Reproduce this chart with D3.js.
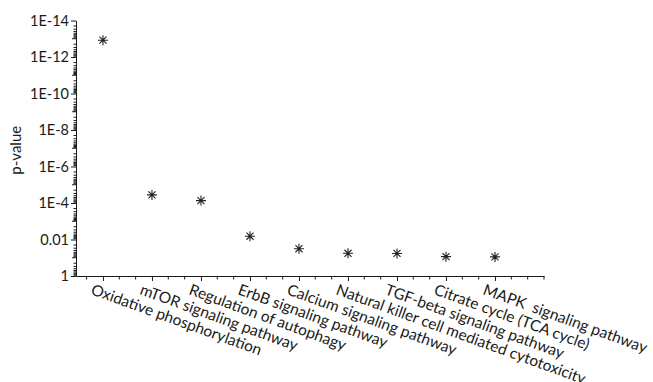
<!DOCTYPE html>
<html>
<head>
<meta charset="utf-8">
<script src="https://cdnjs.cloudflare.com/ajax/libs/d3/7.8.5/d3.min.js"></script>
<style>
  html, body { margin: 0; padding: 0; background: #fff; }
  svg { display: block; }
  text { font-family: Lato, "Open Sans", sans-serif; fill: #1a1a1a; }
</style>
</head>
<body>
<svg id="chart" width="653" height="382"></svg>
<script>
// KEGG pathways and their enrichment p-values
const pathways = [
  "Oxidative phosphorylation",
  "mTOR signaling pathway",
  "Regulation of autophagy",
  "ErbB signaling pathway",
  "Calcium signaling pathway",
  "Natural killer cell mediated cytotoxicity",
  "TGF-beta signaling pathway",
  "Citrate cycle (TCA cycle)",
  "MAPK  signaling pathway"
];
const pValues = [1.2e-13, 3.6e-5, 7.4e-5, 6.6e-3, 0.032, 0.057, 0.058, 0.087, 0.09];

// labelled y ticks (every second decade)
const yTickValues = [1, 1e-2, 1e-4, 1e-6, 1e-8, 1e-10, 1e-12, 1e-14];
const yTickLabels = ["1", "0.01", "1E-4", "1E-6", "1E-8", "1E-10", "1E-12", "1E-14"];

const svg = d3.select("#chart");
const plotLeft = 76, plotRight = 544, plotTop = 20.5, plotBottom = 276;

const x = d3.scaleLinear().domain([0.45, 10]).range([plotLeft, plotRight]);
const y = d3.scaleLog().domain([1, 1e-14]).range([plotBottom, plotTop]);

const axisColor = "#1a1a1a";

// y axis: major labelled ticks
const yAxis = d3.axisLeft(y)
  .tickValues(yTickValues)
  .tickFormat((d, i) => yTickLabels[i])
  .tickSize(5)
  .tickSizeOuter(0);
const gy = svg.append("g").attr("transform", `translate(${plotLeft},0)`).call(yAxis);
gy.selectAll("text").style("font-size", "14.5px").attr("x", -7);
gy.selectAll("line, path").attr("stroke", axisColor);

// y axis: decade and sub-decade minor ticks
const minorY = [];
for (let e = 0; e >= -14; e--) {
  for (let k = 1; k <= 9; k++) {
    const v = k * Math.pow(10, e);
    if (v <= 1 && v >= 1e-14 && !(k === 1 && e % 2 === 0)) minorY.push({v, decade: k === 1});
  }
}
svg.append("g").selectAll("line").data(minorY).join("line")
  .attr("x1", plotLeft).attr("x2", d => plotLeft - (d.decade ? 4 : 2.5))
  .attr("y1", d => y(d.v)).attr("y2", d => y(d.v))
  .attr("stroke", axisColor).attr("stroke-width", 1);

// x axis: majors at each pathway, minors at thirds
const xAxis = d3.axisBottom(x)
  .tickValues(d3.range(1, 10))
  .tickFormat("")
  .tickSize(5)
  .tickSizeOuter(0);
const gx = svg.append("g").attr("transform", `translate(0,${plotBottom})`).call(xAxis);
gx.selectAll("line, path").attr("stroke", axisColor);

const minorX = [];
for (let i = 0; i <= 27; i++) {
  const v = 2 / 3 + i / 3;
  if (Math.abs(v - Math.round(v)) > 1e-6 && v <= 10.0001) minorX.push(v);
}
minorX.push(10);
svg.append("g").selectAll("line").data(minorX).join("line")
  .attr("x1", d => x(d)).attr("x2", d => x(d))
  .attr("y1", plotBottom).attr("y2", plotBottom + 3.5)
  .attr("stroke", axisColor).attr("stroke-width", 1);

// rotated category labels
svg.append("g").selectAll("text").data(pathways).join("text")
  .attr("transform", (d, i) => `translate(${x(i + 1) - 9},${plotBottom + 7}) rotate(20)`)
  .attr("dy", "0.75em")
  .style("font-size", "15.5px")
  .style("white-space", "pre")
  .text(d => d);

// y axis title
svg.append("text")
  .attr("transform", `translate(21,${(plotTop + plotBottom) / 2 + 2}) rotate(-90)`)
  .attr("text-anchor", "middle")
  .style("font-size", "15px")
  .text("p-value");

// asterisk markers
const star = d3.symbol().type({
  draw(ctx, size) {
    const r = Math.sqrt(size) / 2;
    for (let a = 0; a < 4; a++) {
      const t = a * Math.PI / 4;
      ctx.moveTo(-r * Math.cos(t), -r * Math.sin(t));
      ctx.lineTo(r * Math.cos(t), r * Math.sin(t));
    }
  }
}).size(100);

svg.append("g").selectAll("path").data(pValues).join("path")
  .attr("d", star)
  .attr("transform", (d, i) => `translate(${x(i + 1)},${y(d)})`)
  .attr("fill", "none")
  .attr("stroke", "#222")
  .attr("stroke-width", 1.1);
</script>
</body>
</html>
